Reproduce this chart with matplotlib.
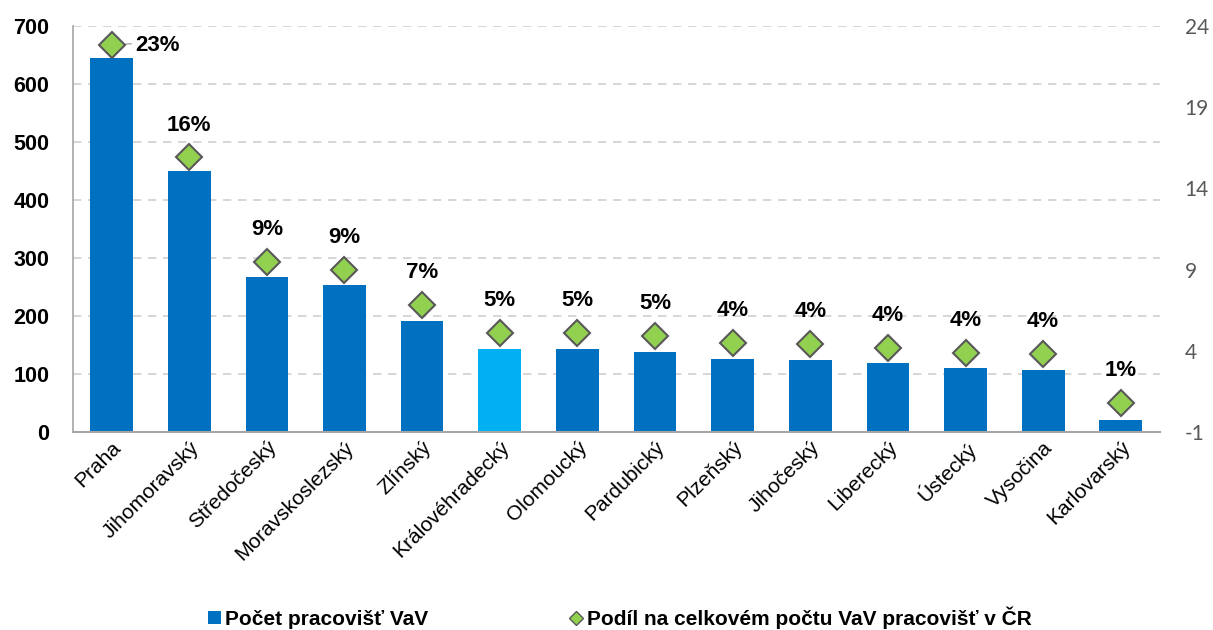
import numpy as np
import matplotlib.pyplot as plt
from matplotlib.lines import Line2D
from matplotlib.patches import Patch

plt.rcParams['font.family'] = ['Liberation Sans', 'DejaVu Sans']
plt.rcParams['axes.unicode_minus'] = False

kraje = ['Praha', 'Jihomoravský', 'Středočeský', 'Moravskoslezský', 'Zlínský',
         'Královéhradecký', 'Olomoucký', 'Pardubický', 'Plzeňský', 'Jihočeský',
         'Liberecký', 'Ústecký', 'Vysočina', 'Karlovarský']
pocet = [645, 450, 267, 253, 191, 143, 143, 138, 126, 124, 119, 110, 107, 21]
podil = [22.8, 15.9, 9.5, 9.0, 6.8, 5.1, 5.1, 4.9, 4.5, 4.4, 4.2, 3.9, 3.8, 0.8]
podil_lbl = ['23%', '16%', '9%', '9%', '7%', '5%', '5%', '5%', '4%', '4%', '4%', '4%', '4%', '1%']

barvy = ['#0070C0'] * len(kraje)
barvy[5] = '#00B0F0'

fig = plt.figure(figsize=(12.13, 6.3), dpi=100)
ax = fig.add_axes([0.060, 0.314, 0.896, 0.645])
x = np.arange(len(kraje))

ax.bar(x, pocet, width=0.55, color=barvy, zorder=2)
ax.set_ylim(0, 700)
ax.set_xlim(-0.5, len(kraje) - 0.5)
ax.set_yticks(range(0, 701, 100))
ax.yaxis.grid(True, color='#D0D0D0', linestyle=(0, (5, 4)), linewidth=1.2, zorder=0)
ax.set_axisbelow(True)
for s in ['top', 'right']:
    ax.spines[s].set_visible(False)
ax.spines['left'].set_color('#A6A6A6')
ax.spines['bottom'].set_color('#A6A6A6')
ax.spines['left'].set_linewidth(1.2)
ax.spines['bottom'].set_linewidth(1.5)
ax.tick_params(axis='y', length=0, labelsize=15.5, pad=17)
for t in ax.get_yticklabels():
    t.set_fontweight('bold')
ax.tick_params(axis='x', length=0, pad=4)
ax.set_xticks(x)
ax.set_xticklabels(kraje, rotation=45, ha='right', rotation_mode='anchor', fontsize=15)

ax2 = ax.twinx()
ax2.set_ylim(-1, 24)
ax2.set_yticks([-1, 4, 9, 14, 19, 24])
ax2.tick_params(axis='y', length=0, labelsize=15, labelcolor='#595959', pad=18)
for t in ax2.get_yticklabels():
    t.set_fontfamily('Lato')
for s in ax2.spines.values():
    s.set_visible(False)
ax2.plot(x, podil, linestyle='none', marker='D', markersize=13,
         markerfacecolor='#92D050', markeredgecolor='#595959', markeredgewidth=1.5, zorder=3)

for i, (v, lbl) in enumerate(zip(podil, podil_lbl)):
    if i == 0:
        ax2.plot([i, i + 0.25], [v, v + 0.1], color='#A6A6A6', linewidth=1, zorder=2)
        ax2.text(i + 0.3, v, lbl, ha='left', va='center', fontsize=16, fontweight='bold')
    else:
        ax2.text(i, v + 1.35, lbl, ha='center', va='bottom', fontsize=16, fontweight='bold')

handles = [Patch(facecolor='#0070C0', edgecolor='none'),
           Line2D([], [], linestyle='none', marker='D', markersize=7,
                  markerfacecolor='#92D050', markeredgecolor='#595959', markeredgewidth=1)]
fig.legend(handles, ['Počet pracovišť VaV', 'Podíl na celkovém počtu VaV pracovišť v ČR'],
           loc='center', bbox_to_anchor=(0.511, 0.02), ncol=2, frameon=False,
           prop={'weight': 'bold', 'size': 15}, columnspacing=6.8, handlelength=0.6,
           handletextpad=0.2, handleheight=0.6)

fig.savefig('out.png', dpi=100)
